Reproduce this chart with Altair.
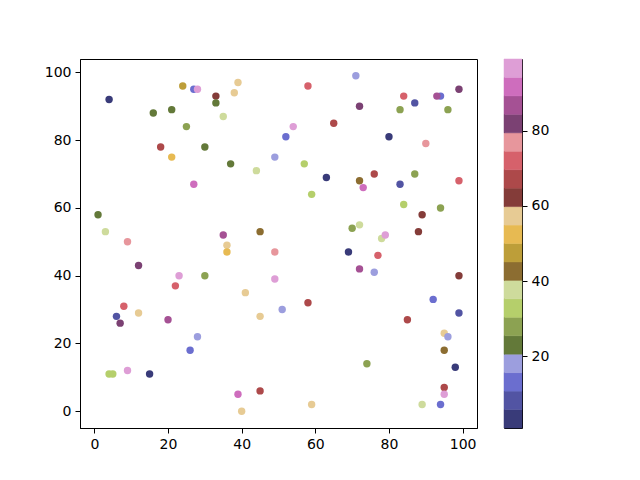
import altair as alt
import pandas as pd

# scatter data
x_vals = [4, 24, 27, 28, 33, 33, 39, 38, 16, 21,
          25, 35, 18, 21, 30, 37, 44, 27, 49, 1,
          3, 9, 35, 45, 36, 71, 58, 84, 87, 94,
          93, 99, 72, 83, 96, 65, 54, 52, 80, 90,
          57, 63, 72, 73, 76, 83, 87, 99, 59, 84,
          89, 94, 70, 72, 78, 79, 88, 36, 49, 12,
          23, 30, 49, 22, 41, 8, 12, 6, 7, 20,
          45, 28, 26, 4, 5, 9, 15, 39, 45, 40,
          51, 69, 77, 72, 76, 99, 58, 92, 99, 85,
          95, 96, 95, 74, 98, 95, 95, 59, 89, 94]
y_vals = [92, 96, 95, 95, 93, 91, 97, 94, 88, 89,
          84, 87, 78, 75, 78, 73, 71, 67, 75, 58,
          53, 50, 52, 53, 49, 99, 96, 93, 91, 93,
          93, 95, 90, 89, 89, 85, 84, 81, 81, 79,
          73, 69, 68, 66, 70, 67, 70, 68, 64, 61,
          58, 60, 54, 55, 51, 52, 53, 47, 47, 43,
          40, 40, 39, 37, 35, 31, 29, 28, 26, 27,
          28, 22, 18, 11, 11, 12, 11, 5, 6, 0,
          30, 47, 46, 42, 41, 40, 32, 33, 29, 27,
          23, 22, 18, 14, 13, 7, 5, 2, 2, 2]
c_vals = [1, 47, 13, 97, 62, 23, 57, 57, 23, 23,
          28, 38, 67, 52, 23, 23, 38, 92, 18, 23,
          38, 77, 87, 42, 57, 18, 72, 72, 8, 13,
          87, 82, 82, 28, 28, 67, 97, 13, 3, 77,
          33, 3, 42, 92, 67, 8, 28, 72, 33, 33,
          62, 28, 28, 38, 38, 97, 62, 52, 77, 82,
          97, 28, 99, 72, 57, 72, 57, 8, 82, 87,
          57, 18, 13, 33, 33, 97, 3, 92, 67, 57,
          18, 3, 72, 87, 18, 62, 67, 13, 8, 67,
          57, 18, 42, 28, 3, 67, 97, 57, 38, 13]

TAB20B = ["#393b79", "#5254a3", "#6b6ecf", "#9c9ede", "#637939", "#8ca252",
          "#b5cf6b", "#cedb9c", "#8c6d31", "#bd9e39", "#e7ba52", "#e7cb94",
          "#843c39", "#ad494a", "#d6616b", "#e7969c", "#7b4173", "#a55194",
          "#ce6dbd", "#de9ed6"]
ticks = [0, 20, 40, 60, 80, 100]
cbar_ticks = [20, 40, 60, 80]

df = pd.DataFrame({"x": x_vals, "y": y_vals, "c": c_vals})

xmin, xmax = min(x_vals), max(x_vals)
ymin, ymax = min(y_vals), max(y_vals)
cmin, cmax = min(c_vals), max(c_vals)
xpad = 0.05 * (xmax - xmin)
ypad = 0.05 * (ymax - ymin)

n = len(TAB20B)
step = (cmax - cmin) / n
cb_df = pd.DataFrame({
    "lo": [cmin + i * step for i in range(n)],
    "hi": [cmin + (i + 1) * step for i in range(n)],
    "col": TAB20B,
})

main = alt.Chart(df).mark_circle(size=55, opacity=1).encode(
    x=alt.X("x:Q", scale=alt.Scale(domain=[xmin - xpad, xmax + xpad], nice=False, zero=False),
            axis=alt.Axis(values=ticks, title=None, grid=False, format="d")),
    y=alt.Y("y:Q", scale=alt.Scale(domain=[ymin - ypad, ymax + ypad], nice=False, zero=False),
            axis=alt.Axis(values=ticks, title=None, grid=False, format="d")),
    color=alt.Color("c:Q", scale=alt.Scale(type="quantize", domain=[cmin, cmax], range=TAB20B,
                                           nice=False, zero=False), legend=None),
).properties(width=397, height=369)

cb = alt.Chart(cb_df).mark_rect(strokeWidth=0.5).encode(
    x=alt.value(0), x2=alt.value(18),
    y=alt.Y("lo:Q", scale=alt.Scale(domain=[cmin, cmax], nice=False, zero=False),
            axis=alt.Axis(orient="right", values=cbar_ticks, title=None, grid=False,
                          domain=False, format="d")),
    y2="hi:Q",
    color=alt.Color("col:N", scale=None),
    stroke=alt.Stroke("col:N", scale=None),
).properties(width=18, height=369)

chart = alt.hconcat(main, cb, spacing=25).properties(
    padding={"left": 35, "top": 50, "right": 5, "bottom": 5},
    background="white",
).configure_view(
    stroke="black", strokeWidth=1
).configure_axis(
    labelFont="DejaVu Sans", labelFontSize=14, labelColor="black",
    tickColor="black", domainColor="black", tickSize=5, tickWidth=1,
    domainWidth=1, labelPadding=4
)

chart.save("out.html", embed_options={"renderer": "svg", "actions": False})
